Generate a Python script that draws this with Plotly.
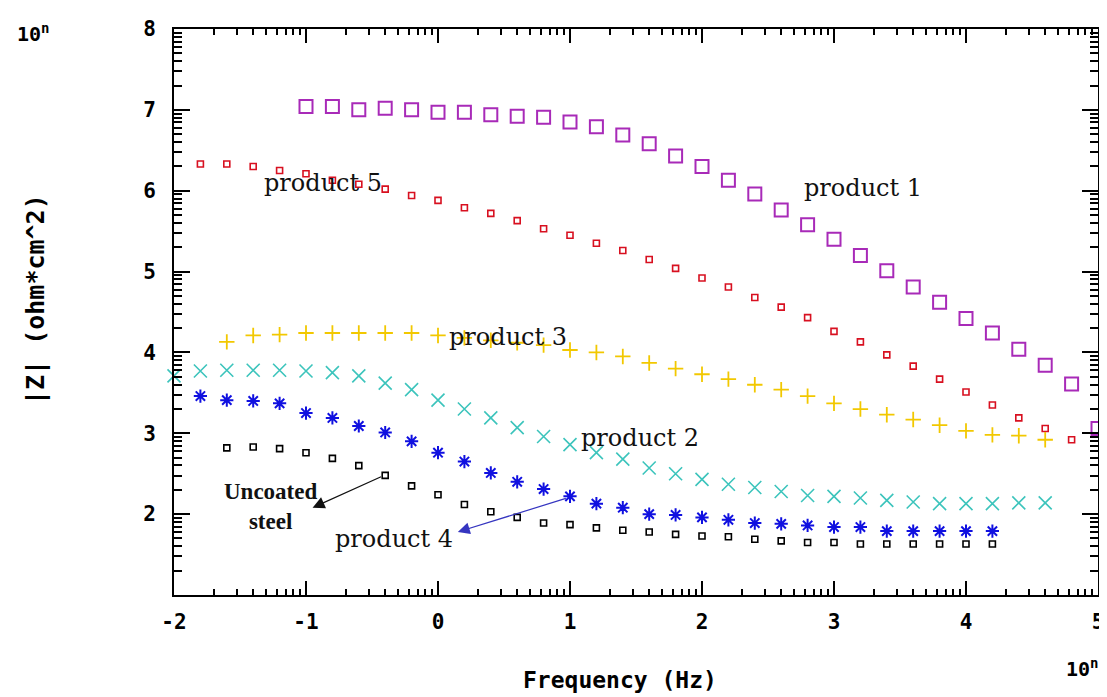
import math
import plotly.graph_objects as go

# log10 frequency (Hz) grid, step 0.2 decade
def grid(start, n):
    return [round(start + 0.2 * i, 1) for i in range(n)]

p1_x = grid(-1.0, 31)
p1_y = [7.04, 7.04, 7.00, 7.02, 7.00, 6.97, 6.97, 6.94, 6.92, 6.91, 6.85, 6.79, 6.69,
        6.58, 6.43, 6.30, 6.13, 5.96, 5.76, 5.58, 5.40, 5.20, 5.01, 4.81, 4.62, 4.42,
        4.24, 4.04, 3.84, 3.61, 3.06]

p5_x = grid(-1.8, 34)
p5_y = [6.33, 6.33, 6.30, 6.25, 6.21, 6.13, 6.08, 6.02, 5.94, 5.88, 5.79, 5.72, 5.63,
        5.53, 5.45, 5.35, 5.26, 5.15, 5.04, 4.92, 4.81, 4.68, 4.56, 4.43, 4.26, 4.13,
        3.97, 3.83, 3.67, 3.51, 3.35, 3.19, 3.06, 2.92]

p3_x = grid(-1.6, 32)
p3_y = [4.13, 4.21, 4.22, 4.24, 4.24, 4.24, 4.24, 4.24, 4.21, 4.18, 4.15, 4.12, 4.09,
        4.03, 4.00, 3.95, 3.87, 3.80, 3.73, 3.67, 3.60, 3.54, 3.46, 3.37, 3.30, 3.23,
        3.17, 3.10, 3.03, 2.98, 2.97, 2.92]

p2_x = grid(-2.0, 34)
p2_y = [3.71, 3.77, 3.78, 3.78, 3.78, 3.77, 3.75, 3.71, 3.62, 3.54, 3.41, 3.30, 3.19,
        3.07, 2.96, 2.86, 2.76, 2.68, 2.57, 2.50, 2.43, 2.37, 2.33, 2.28, 2.23, 2.22,
        2.20, 2.17, 2.15, 2.13, 2.13, 2.13, 2.14, 2.14]

p4_x = grid(-1.8, 31)
p4_y = [3.46, 3.41, 3.40, 3.37, 3.25, 3.19, 3.09, 3.01, 2.90, 2.76, 2.65, 2.51, 2.40,
        2.31, 2.22, 2.13, 2.08, 2.00, 1.99, 1.96, 1.93, 1.89, 1.88, 1.86, 1.84, 1.84,
        1.79, 1.79, 1.79, 1.79, 1.79]

st_x = grid(-1.6, 30)
st_y = [2.82, 2.83, 2.81, 2.76, 2.69, 2.60, 2.48, 2.35, 2.24, 2.12, 2.03, 1.96, 1.89,
        1.87, 1.83, 1.80, 1.78, 1.75, 1.73, 1.72, 1.69, 1.67, 1.65, 1.65, 1.63, 1.63,
        1.63, 1.63, 1.63, 1.63]

x_ticks = [-2, -1, 0, 1, 2, 3, 4, 5]
y_ticks = [1, 2, 3, 4, 5, 6, 7, 8]
x_labels = ["-2", "-1", "0", "1", "2", "3", "4", "5"]
y_labels = ["", "2", "3", "4", "5", "6", "7", "8"]

x_minor = [n + math.log10(k) for n in range(-2, 5) for k in range(2, 10)]
y_minor = [n + math.log10(k) for n in range(1, 8) for k in range(2, 10)]

fig = go.Figure()

series = [
    (p1_x, p1_y, "square-open", 13, "#a82ab8", 2),
    (p5_x, p5_y, "square-open", 6, "#d81020", 1.6),
    (p3_x, p3_y, "cross-thin-open", 11, "#f2c800", 1.8),
    (p2_x, p2_y, "x-thin-open", 13, "#3cc4bc", 1.6),
    (p4_x, p4_y, "asterisk-open", 11, "#1010e0", 2.0),
    (st_x, st_y, "square-open", 6, "#000000", 1.6),
]
for xs, ys, sym, sz, col, lw in series:
    fig.add_trace(go.Scatter(
        x=xs, y=ys, mode="markers",
        marker=dict(symbol=sym, size=sz, color=col, line=dict(color=col, width=lw)),
        showlegend=False, cliponaxis=False))

serif = "DejaVu Serif"
mono = "DejaVu Sans Mono"

labels = [
    ("product 1", 3.22, 6.03),
    ("product 5", -0.87, 6.10),
    ("product 3", 0.53, 4.19),
    ("product 2", 1.53, 2.94),
    ("product 4", -0.33, 1.69),
]
for txt, x, y in labels:
    fig.add_annotation(x=x, y=y, text=txt, showarrow=False,
                       font=dict(family=serif, size=24, color="#111111"))

fig.add_annotation(x=-1.27, y=2.10, text="<b>Uncoated<br>steel</b>", showarrow=False,
                   font=dict(family="Liberation Serif", size=23, color="#111111"))

# arrows
fig.add_annotation(x=-0.95, y=2.08, ax=-0.42, ay=2.47, axref="x", ayref="y",
                   text="", showarrow=True, arrowhead=2, arrowsize=2.0,
                   arrowwidth=1.2, arrowcolor="#111111")
fig.add_annotation(x=0.15, y=1.78, ax=0.98, ay=2.20, axref="x", ayref="y",
                   text="", showarrow=True, arrowhead=2, arrowsize=2.0,
                   arrowwidth=1.2, arrowcolor="#3535c0")

bold = dict(family=mono, color="black", weight="bold")
ctr = dict(xref="paper", yref="paper", showarrow=False, xanchor="center", yanchor="middle")

# axis titles and exponent markers (paper coords relative to plot area)
fig.add_annotation(x=(620 - 174) / 924, y=-(680 - 595) / 566,
                   text="Frequency (Hz)", font=dict(size=23, **bold), **ctr)
fig.add_annotation(x=(1082 - 174) / 924, y=-(668 - 595) / 566,
                   text="10<sup>n</sup>", font=dict(size=20, **bold), **ctr)
fig.add_annotation(x=-(174 - 33) / 924, y=(595 - 33) / 566,
                   text="10<sup>n</sup>", font=dict(size=20, **bold), **ctr)
fig.add_annotation(x=-(174 - 35) / 924, y=(595 - 300) / 566,
                   text="|Z| (ohm*cm^2)", textangle=-90,
                   font=dict(size=25, **bold), **ctr)

axis_common = dict(
    showgrid=False, zeroline=False, showline=True, linecolor="black", linewidth=2,
    mirror="allticks", ticks="inside", tickcolor="black", tickwidth=2,
    tickfont=dict(size=21, **bold), automargin=False,
)

fig.update_xaxes(range=[-2, 5], tickmode="array", tickvals=x_ticks, ticktext=x_labels,
                 ticklen=14, ticklabelstandoff=7,
                 minor=dict(tickmode="array", tickvals=x_minor, ticks="inside",
                            ticklen=6, tickwidth=1.5, tickcolor="black", showgrid=False),
                 **axis_common)
fig.update_yaxes(range=[1, 8], tickmode="array", tickvals=y_ticks, ticktext=y_labels,
                 ticklen=16, ticklabelstandoff=12,
                 minor=dict(tickmode="array", tickvals=y_minor, ticks="inside",
                            ticklen=8, tickwidth=1.5, tickcolor="black", showgrid=False),
                 **axis_common)

# page body has an 8px default margin, so the figure is offset by 8px
fig.update_layout(
    width=1099, height=689,
    margin=dict(l=166, r=9, t=21, b=102, autoexpand=False),
    paper_bgcolor="white", plot_bgcolor="white",
    showlegend=False,
)

fig.write_html("out.html")
